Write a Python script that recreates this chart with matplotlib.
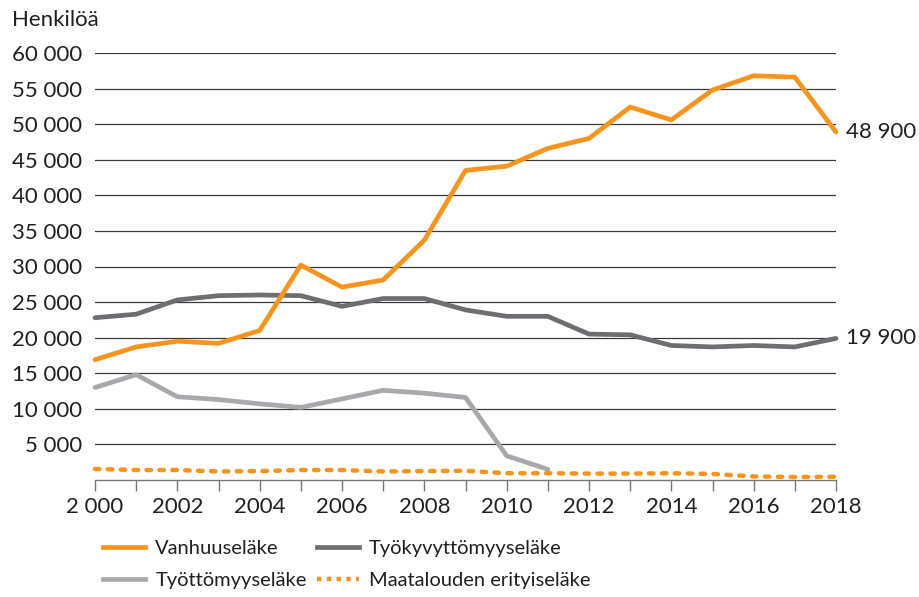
import matplotlib
matplotlib.use("Agg")
import matplotlib.pyplot as plt
from matplotlib.lines import Line2D

years = list(range(2000, 2019))
vanhuus = [16900, 18700, 19500, 19200, 21000, 30200, 27100, 28100, 33700, 43500,
           44100, 46600, 48000, 52400, 50600, 54800, 56800, 56600, 48900]
tyokyvyttomyys = [22800, 23300, 25300, 25900, 26000, 25900, 24400, 25500, 25500, 23900,
                  23000, 23000, 20500, 20400, 18900, 18700, 18900, 18700, 19900]
tyottomyys_years = list(range(2000, 2012))
tyottomyys = [13000, 14800, 11700, 11300, 10700, 10200, 11400, 12600, 12200, 11600, 3400, 1500]
maatalous = [1550, 1400, 1400, 1200, 1250, 1400, 1400, 1200, 1250, 1300,
             950, 950, 900, 900, 950, 850, 500, 420, 450]

labels = ["Vanhuuseläke", "Työkyvyttömyyseläke", "Työttömyyseläke", "Maatalouden erityiseläke"]
end_labels = ["48 900", "19 900"]
xtick_years = list(range(2000, 2019, 2))
xtick_labels = ["2 000"] + [str(y) for y in range(2002, 2019, 2)]
yticks = list(range(5000, 60001, 5000))

ORANGE = "#F7941D"
DARK = "#6D6E71"
LIGHT = "#A7A9AC"
TXT = "#231F20"

plt.rcParams['font.family'] = ['Lato', 'DejaVu Sans']
FS = 16
LFS = 14.5

fig = plt.figure(figsize=(9.19, 5.97), dpi=100)
ax = fig.add_axes([95/919, 1-480/597, (836-95)/919, (480-53)/597])
ax.set_xlim(2000, 2018)
ax.set_ylim(0, 60000)

for y in yticks:
    ax.axhline(y, color="#3a3a3a", lw=0.9, zorder=1)

lw = 3.4
ax.plot(years, tyokyvyttomyys, color=DARK, lw=lw, solid_capstyle='round', solid_joinstyle='round', clip_on=False, zorder=3)
ax.plot(tyottomyys_years, tyottomyys, color=LIGHT, lw=lw, solid_capstyle='round', solid_joinstyle='round', clip_on=False, zorder=3)
ax.plot(years, maatalous, color=ORANGE, lw=3.2, linestyle=(0, (1, 1.9)), dash_capstyle='round', clip_on=False, zorder=3)
ax.plot(years, vanhuus, color=ORANGE, lw=lw, solid_capstyle='round', solid_joinstyle='round', clip_on=False, zorder=4)

ax.text(2018.25, vanhuus[-1], end_labels[0], fontsize=FS, color=TXT, va='center', ha='left')
ax.text(2018.25, tyokyvyttomyys[-1], end_labels[1], fontsize=FS, color=TXT, va='center', ha='left')

for s in ['top', 'right', 'left']:
    ax.spines[s].set_visible(False)
ax.spines['bottom'].set_color("#777777")
ax.spines['bottom'].set_linewidth(1.0)

ax.set_yticks(yticks)
ax.set_yticklabels([f"{v:,}".replace(",", " ") for v in yticks], fontsize=FS, color=TXT)
ax.tick_params(axis='y', length=0, pad=9.5)

ax.set_xticks(years, minor=False)
ax.set_xticklabels([xtick_labels[xtick_years.index(y)] if y in xtick_years else "" for y in years],
                   fontsize=FS, color=TXT)
ax.tick_params(axis='x', length=8, width=1.0, color="#777777", direction='out', pad=4)

fig.text(12/919, 1-20/597, "Henkilöä", fontsize=FS, color=TXT, va='center', ha='left')

handles = [
    Line2D([0], [0], color=ORANGE, lw=lw),
    Line2D([0], [0], color=LIGHT, lw=lw),
    Line2D([0], [0], color=DARK, lw=lw),
    Line2D([0], [0], color=ORANGE, lw=3.2, linestyle=(0, (1, 1.2))),
]
leg_labels = [labels[0], labels[2], labels[1], labels[3]]
leg = fig.legend(handles, leg_labels, ncol=2, loc='upper left',
                 bbox_to_anchor=(103/919, 1-540/597), frameon=False,
                 fontsize=LFS, handlelength=2.1, handletextpad=0.5,
                 columnspacing=0.5, labelspacing=0.75, borderaxespad=0, borderpad=0)
for t in leg.get_texts():
    t.set_color(TXT)

fig.savefig("out.png", dpi=100)
